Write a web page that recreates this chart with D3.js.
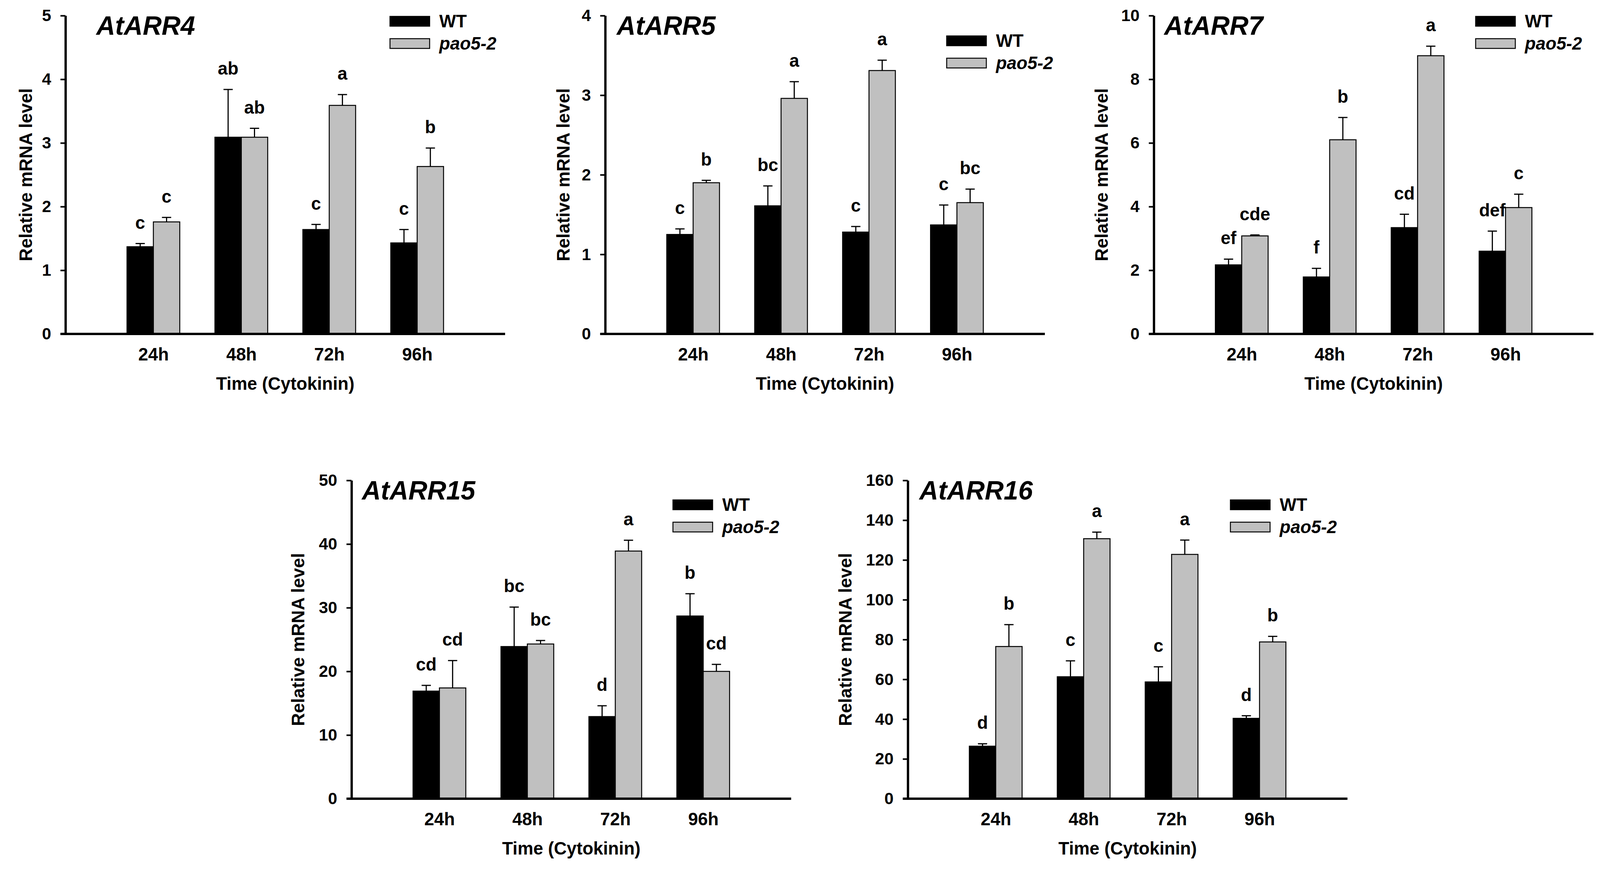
<!DOCTYPE html>
<html>
<head>
<meta charset="utf-8">
<script src="https://cdn.jsdelivr.net/npm/d3@7"></script>
<style>
  html, body { margin: 0; padding: 0; background: #fff; overflow: hidden; width: 100%; height: 100%; }
  svg { display: block; }
  text { font-family: "Liberation Sans", Arial, sans-serif; font-weight: bold; fill: #000; }
</style>
</head>
<body>
<script>
// categories
var times = ['24h', '48h', '72h', '96h'];

// AtARR4
var arr4WT = [1.37, 3.09, 1.64, 1.43];
var arr4WTErr = [0.05, 0.75, 0.08, 0.21];
var arr4Pao = [1.76, 3.09, 3.59, 2.63];
var arr4PaoErr = [0.07, 0.14, 0.17, 0.29];
var arr4WTLetters = ['c', 'ab', 'c', 'c'];
var arr4PaoLetters = ['c', 'ab', 'a', 'b'];
var arr4Ticks = [0, 1, 2, 3, 4, 5];

// AtARR5
var arr5WT = [1.25, 1.61, 1.28, 1.37];
var arr5WTErr = [0.07, 0.25, 0.07, 0.25];
var arr5Pao = [1.90, 2.96, 3.31, 1.65];
var arr5PaoErr = [0.03, 0.21, 0.13, 0.17];
var arr5WTLetters = ['c', 'bc', 'c', 'c'];
var arr5PaoLetters = ['b', 'a', 'a', 'bc'];
var arr5Ticks = [0, 1, 2, 3, 4];

// AtARR7
var arr7WT = [2.17, 1.79, 3.34, 2.60];
var arr7WTErr = [0.18, 0.27, 0.42, 0.63];
var arr7Pao = [3.08, 6.10, 8.74, 3.97];
var arr7PaoErr = [0.03, 0.70, 0.30, 0.42];
var arr7WTLetters = ['ef', 'f', 'cd', 'def'];
var arr7PaoLetters = ['cde', 'b', 'a', 'c'];
var arr7Ticks = [0, 2, 4, 6, 8, 10];

// AtARR15
var arr15WT = [16.9, 23.9, 12.9, 28.7];
var arr15WTErr = [0.9, 6.2, 1.7, 3.5];
var arr15Pao = [17.4, 24.3, 38.9, 20.0];
var arr15PaoErr = [4.3, 0.55, 1.7, 1.1];
var arr15WTLetters = ['cd', 'bc', 'd', 'b'];
var arr15PaoLetters = ['cd', 'bc', 'a', 'cd'];
var arr15Ticks = [0, 10, 20, 30, 40, 50];

// AtARR16
var arr16WT = [26.4, 61.3, 58.7, 40.4];
var arr16WTErr = [1.2, 8.0, 7.6, 1.3];
var arr16Pao = [76.5, 130.7, 122.8, 78.8];
var arr16PaoErr = [11.0, 3.3, 7.2, 2.8];
var arr16WTLetters = ['d', 'c', 'c', 'd'];
var arr16PaoLetters = ['b', 'a', 'a', 'b'];
var arr16Ticks = [0, 20, 40, 60, 80, 100, 120, 140, 160];

var seriesNames = ['WT', 'pao5-2'];

// layout
var svgWidth = 4156;
var svgHeight = 2225;
var plotW = 1142;
var plotH = 815;
var grey = '#c0c0c0';

var panels = [
    { title: 'AtARR4', wt: arr4WT, wtErr: arr4WTErr, pao: arr4Pao, paoErr: arr4PaoErr,
      wtLet: arr4WTLetters, paoLet: arr4PaoLetters, ticks: arr4Ticks,
      left: 170, top: 40, titleX: 80, legX: 843, legY: 2, yTitleX: -87 },
    { title: 'AtARR5', wt: arr5WT, wtErr: arr5WTErr, pao: arr5Pao, paoErr: arr5PaoErr,
      wtLet: arr5WTLetters, paoLet: arr5PaoLetters, ticks: arr5Ticks,
      left: 1572, top: 40, titleX: 30, legX: 887, legY: 52, yTitleX: -93 },
    { title: 'AtARR7', wt: arr7WT, wtErr: arr7WTErr, pao: arr7Pao, paoErr: arr7PaoErr,
      wtLet: arr7WTLetters, paoLet: arr7PaoLetters, ticks: arr7Ticks,
      left: 2997, top: 40, titleX: 27, legX: 836, legY: 2, yTitleX: -119 },
    { title: 'AtARR15', wt: arr15WT, wtErr: arr15WTErr, pao: arr15Pao, paoErr: arr15PaoErr,
      wtLet: arr15WTLetters, paoLet: arr15PaoLetters, ticks: arr15Ticks,
      left: 913, top: 1230, titleX: 27, legX: 835, legY: 50, yTitleX: -123 },
    { title: 'AtARR16', wt: arr16WT, wtErr: arr16WTErr, pao: arr16Pao, paoErr: arr16PaoErr,
      wtLet: arr16WTLetters, paoLet: arr16PaoLetters, ticks: arr16Ticks,
      left: 2358, top: 1230, titleX: 30, legX: 838, legY: 50, yTitleX: -146 }
];

// svg fills the window, drawing space stays 4156 x 2225
var svg = d3.select('body')
    .append('svg')
    .attr('width', '100%')
    .attr('height', '100%')
    .attr('viewBox', `0 0 ${svgWidth} ${svgHeight}`)
    .attr('preserveAspectRatio', 'none');

svg.append('rect')
    .attr('width', svgWidth)
    .attr('height', svgHeight)
    .attr('fill', '#fff');

panels.forEach(drawPanel);

function drawPanel(p) {
    var g = svg.append('g')
        .attr('transform', `translate(${p.left}, ${p.top})`);

    var x = d3.scalePoint()
        .domain(times)
        .range([0, plotW])
        .padding(1);

    var y = d3.scaleLinear()
        .domain([0, d3.max(p.ticks)])
        .range([plotH, 0]);

    var barW = x.step() * 0.3;

    // one row per bar
    var rows = [];
    times.forEach(function(t, i) {
        rows.push({ t: t, v: p.wt[i], e: p.wtErr[i], letter: p.wtLet[i], side: 0 });
        rows.push({ t: t, v: p.pao[i], e: p.paoErr[i], letter: p.paoLet[i], side: 1 });
    });
    var bx = d => x(d.t) - barW + d.side * barW;
    var cx = d => bx(d) + barW / 2;

    // bars
    g.selectAll('rect.bar')
        .data(rows)
        .enter()
        .append('rect')
        .attr('class', 'bar')
        .attr('x', bx)
        .attr('y', d => y(d.v))
        .attr('width', barW)
        .attr('height', d => plotH - y(d.v))
        .attr('fill', d => d.side ? grey : '#000')
        .attr('stroke', '#000')
        .attr('stroke-width', 2.5);

    // error bars (upper half only)
    g.selectAll('line.err')
        .data(rows)
        .enter()
        .append('line')
        .attr('x1', cx).attr('x2', cx)
        .attr('y1', d => y(d.v))
        .attr('y2', d => y(d.v + d.e))
        .attr('stroke', '#000')
        .attr('stroke-width', 3);

    g.selectAll('line.cap')
        .data(rows)
        .enter()
        .append('line')
        .attr('x1', d => cx(d) - 12).attr('x2', d => cx(d) + 12)
        .attr('y1', d => y(d.v + d.e))
        .attr('y2', d => y(d.v + d.e))
        .attr('stroke', '#000')
        .attr('stroke-width', 3);

    // significance letters
    g.selectAll('text.letter')
        .data(rows)
        .enter()
        .append('text')
        .attr('x', cx)
        .attr('y', d => y(d.v + d.e) - 38)
        .attr('text-anchor', 'middle')
        .style('font-size', '46px')
        .text(d => d.letter);

    // y axis
    var leftAxis = d3.axisLeft(y)
        .tickValues(p.ticks)
        .tickFormat(d3.format('d'))
        .tickSize(13)
        .tickSizeOuter(0)
        .tickPadding(24);

    var ya = g.append('g').call(leftAxis);
    ya.select('.domain').attr('stroke-width', 6);
    ya.selectAll('.tick line').attr('stroke-width', 4);
    ya.selectAll('.tick text')
        .style('font-size', '43px')
        .style('font-family', '"Liberation Sans", Arial, sans-serif')
        .style('font-weight', 'bold')
        .attr('fill', '#000');

    // x axis
    var bottomAxis = d3.axisBottom(x)
        .tickSize(0)
        .tickPadding(35);

    var xa = g.append('g')
        .attr('transform', `translate(0, ${plotH})`)
        .call(bottomAxis);
    xa.select('.domain').remove();
    xa.selectAll('.tick text')
        .style('font-size', '46px')
        .style('font-family', '"Liberation Sans", Arial, sans-serif')
        .style('font-weight', 'bold')
        .attr('fill', '#000');

    g.append('line')
        .attr('x1', -13).attr('x2', plotW)
        .attr('y1', plotH).attr('y2', plotH)
        .attr('stroke', '#000')
        .attr('stroke-width', 6);

    // axis titles
    g.append('text')
        .attr('transform', 'rotate(-90)')
        .attr('x', -plotH / 2)
        .attr('y', p.yTitleX)
        .attr('text-anchor', 'middle')
        .style('font-size', '46px')
        .text('Relative mRNA level');

    g.append('text')
        .attr('x', plotW / 2)
        .attr('y', plotH + 143)
        .attr('text-anchor', 'middle')
        .style('font-size', '46px')
        .text('Time (Cytokinin)');

    // panel title
    g.append('text')
        .attr('x', p.titleX)
        .attr('y', 49)
        .style('font-size', '68px')
        .style('font-style', 'italic')
        .text(p.title);

    // legend
    var leg = g.append('g')
        .attr('transform', `translate(${p.legX}, ${p.legY})`);

    seriesNames.forEach(function(name, i) {
        leg.append('rect')
            .attr('x', 0)
            .attr('y', i * 57)
            .attr('width', 103)
            .attr('height', 25)
            .attr('fill', i ? grey : '#000')
            .attr('stroke', '#000')
            .attr('stroke-width', 2.5);
        leg.append('text')
            .attr('x', 128)
            .attr('y', i * 57 + 12)
            .attr('dy', '0.35em')
            .style('font-size', '46px')
            .style('font-style', i ? 'italic' : 'normal')
            .text(name);
    });
}
</script>
</body>
</html>
